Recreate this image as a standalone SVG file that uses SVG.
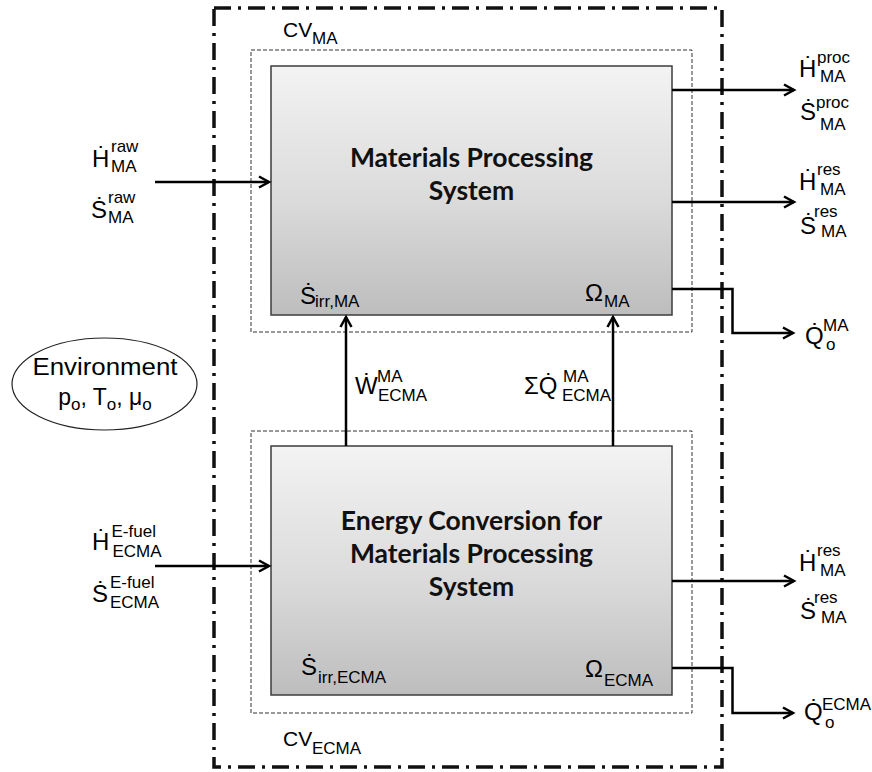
<svg xmlns="http://www.w3.org/2000/svg" width="872" height="772" viewBox="0 0 872 772">
<style>
text{font-family:"Liberation Sans",Arial,sans-serif;fill:#000}
.m{font-size:24px}
.s{font-size:17px}
.b{font-family:Lato,"Open Sans",sans-serif;font-weight:bold;font-size:26.5px;text-anchor:middle;fill:#111}
.cv{fill:none;stroke:#333;stroke-width:1;stroke-dasharray:4 2}
.box{fill:url(#g);stroke:#3c3c3c;stroke-width:1.5}
.outer{fill:none;stroke:#111;stroke-width:3.5;stroke-dasharray:17 7 3 7}
.ar{fill:none;stroke:#000;stroke-width:2.5;marker-end:url(#ah)}
</style>
<defs>
<linearGradient id="g" x1="0" y1="0" x2="0" y2="1">
<stop offset="0" stop-color="#f3f3f3"/>
<stop offset="0.55" stop-color="#dadada"/>
<stop offset="1" stop-color="#bdbdbd"/>
</linearGradient>
<marker id="ah" markerUnits="userSpaceOnUse" markerWidth="16" markerHeight="16" refX="12" refY="8" orient="auto">
<path d="M2,2.5 L12,8 L2,13.5" fill="none" stroke="#000" stroke-width="2.5"/>
</marker>
</defs>
<rect id="outer-boundary" class="outer" x="214" y="8" width="508" height="759"/>
<g id="cv-ma">
<rect class="cv" x="251" y="50" width="441" height="282"/>
<text x="283" y="37" font-size="21">CV</text><text class="s" x="312" y="44">MA</text>
</g>
<g id="cv-ecma">
<rect class="cv" x="251" y="431" width="441" height="282"/>
<text x="283" y="746" font-size="21">CV</text><text class="s" x="312" y="754">ECMA</text>
</g>
<g id="materials-processing-system">
<rect class="box" x="271" y="66" width="401" height="249"/>
<text class="b" x="471.5" y="167">Materials Processing</text>
<text class="b" x="471.5" y="200">System</text>
<text class="m" x="300" y="304">Ṡ</text><text class="s" x="315" y="307">irr,MA</text>
<text class="m" x="585" y="301">Ω</text><text class="s" x="604" y="307">MA</text>
</g>
<g id="energy-conversion-system">
<rect class="box" x="271" y="446" width="401" height="249"/>
<text class="b" x="471.5" y="530">Energy Conversion for</text>
<text class="b" x="471.5" y="563">Materials Processing</text>
<text class="b" x="471.5" y="596">System</text>
<text class="m" x="301" y="675">Ṡ</text><text class="s" x="318" y="683">irr,ECMA</text>
<text class="m" x="585" y="677">Ω</text><text class="s" x="604" y="686">ECMA</text>
</g>
<g id="environment">
<ellipse cx="104.5" cy="384" rx="92.5" ry="46" fill="#fff" stroke="#222" stroke-width="1.2"/>
<text x="105" y="375" font-size="23" text-anchor="middle" textLength="145" lengthAdjust="spacingAndGlyphs">Environment</text>
<text x="105" y="405" font-size="23" text-anchor="middle">p<tspan font-size="17" dy="5">o</tspan><tspan dy="-5">, T</tspan><tspan font-size="17" dy="5">o</tspan><tspan dy="-5">, μ</tspan><tspan font-size="17" dy="5">o</tspan></text>
</g>
<g id="label-raw">
<text class="m" x="92" y="167">Ḣ</text><text class="s" x="111" y="152">raw</text><text class="s" x="111" y="172">MA</text>
<text class="m" x="91" y="218">Ṡ</text><text class="s" x="108" y="203">raw</text><text class="s" x="108" y="223">MA</text>
</g>
<g id="label-efuel">
<text class="m" x="92" y="550">Ḣ</text><text class="s" x="111.5" y="537">E-fuel</text><text class="s" x="112.5" y="557">ECMA</text>
<text class="m" x="92" y="602">Ṡ</text><text class="s" x="110" y="588">E-fuel</text><text class="s" x="110" y="608">ECMA</text>
</g>
<g id="label-proc">
<text class="m" x="799" y="77">Ḣ</text><text class="s" x="817" y="63">proc</text><text class="s" x="820" y="82">MA</text>
<text class="m" x="800" y="120">Ṡ</text><text class="s" x="816" y="108">proc</text><text class="s" x="820" y="130">MA</text>
</g>
<g id="label-res-ma">
<text class="m" x="799" y="190">Ḣ</text><text class="s" x="817" y="175">res</text><text class="s" x="820" y="195">MA</text>
<text class="m" x="800" y="234">Ṡ</text><text class="s" x="814" y="217">res</text><text class="s" x="821" y="237">MA</text>
</g>
<g id="label-res-ecma">
<text class="m" x="799" y="571">Ḣ</text><text class="s" x="817" y="556">res</text><text class="s" x="820" y="576">MA</text>
<text class="m" x="800" y="619">Ṡ</text><text class="s" x="814" y="603">res</text><text class="s" x="821" y="623">MA</text>
</g>
<g id="label-q-ma">
<text class="m" x="805" y="344">Q̇</text><text class="s" x="823" y="331">MA</text><text class="s" x="826" y="350">o</text>
</g>
<g id="label-q-ecma">
<text class="m" x="804" y="720">Q̇</text><text class="s" x="822" y="710">ECMA</text><text class="s" x="825" y="728">o</text>
</g>
<g id="label-w">
<text class="m" x="355" y="394">Ẇ</text><text class="s" x="377" y="382">MA</text><text class="s" x="378" y="401">ECMA</text>
</g>
<g id="label-sumq">
<text class="m" x="524" y="394">ΣQ̇</text><text class="s" x="563" y="382">MA</text><text class="s" x="562" y="401">ECMA</text>
</g>
<g id="connectors">
<path class="ar" d="M155,182 H269"/>
<path class="ar" d="M672,90 H794"/>
<path class="ar" d="M672,202 H794"/>
<path class="ar" d="M672,289 H732.5 V333 H793"/>
<path class="ar" d="M346,446 V317"/>
<path class="ar" d="M613,446 V317"/>
<path class="ar" d="M155,566 H269"/>
<path class="ar" d="M672,581 H794"/>
<path class="ar" d="M672,668 H732.5 V713 H793"/>
</g>
</svg>
